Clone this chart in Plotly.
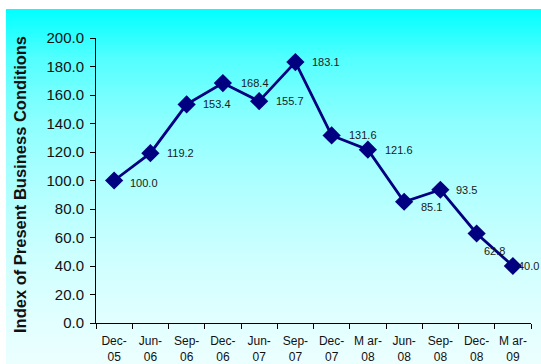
import plotly.graph_objects as go

# Quarterly index of present business conditions
periods = ["Dec-05", "Jun-06", "Sep-06", "Dec-06", "Jun-07", "Sep-07",
           "Dec-07", "Mar-08", "Jun-08", "Sep-08", "Dec-08", "Mar-09"]
index_values = [100.0, 119.2, 153.4, 168.4, 155.7, 183.1,
                131.6, 121.6, 85.1, 93.5, 62.8, 40.0]
tick_labels = ["Dec-<br>05", "Jun-<br>06", "Sep-<br>06", "Dec-<br>06", "Jun-<br>07",
               "Sep-<br>07", "Dec-<br>07", "M ar-<br>08", "Jun-<br>08", "Sep-<br>08",
               "Dec-<br>08", "M ar-<br>09"]
y_title = "Index of Present Business Conditions"

# label offsets (px) relative to each marker
label_dx = [14, 15, 14, 16, 15, 15, 15, 15, 15, 14, 5, 3]
label_dy = [-2, 0, 0, 0, 0, 0, 0, 0, -5, 0, -17, 0]

W, H = 541, 364
L, R, T, B = 96, 10, 38, 41
pw, ph = W - L - R, H - T - B

def px_to_paper_x(px):
    return (px - L) / pw

def px_to_paper_y(py):
    return (H - B - py) / ph

# vertical cyan gradient behind the chart (red channel stops, top -> bottom)
grad_stops = [(9, 0), (60, 85), (120, 140), (180, 172), (250, 203), (320, 226), (364, 236)]

def red_at(py):
    for (y0, r0), (y1, r1) in zip(grad_stops, grad_stops[1:]):
        if y0 <= py <= y1:
            return r0 + (r1 - r0) * (py - y0) / (y1 - y0)
    return grad_stops[-1][1]

shapes = []
band = 4
y = 9
while y < H:
    r = int(round(red_at(y + band / 2)))
    shapes.append(dict(
        type="rect", xref="paper", yref="paper", layer="below",
        x0=px_to_paper_x(6), x1=px_to_paper_x(W + 2),
        y0=px_to_paper_y(min(y + band + 0.5, H + 2)), y1=px_to_paper_y(y),
        fillcolor=f"rgb({r},255,255)", line=dict(width=0),
    ))
    y += band

fig = go.Figure()
fig.add_trace(go.Scatter(
    x=periods, y=index_values, mode="lines+markers",
    line=dict(color="#000080", width=2.8),
    marker=dict(symbol="diamond", size=14, color="#000080"),
    hoverinfo="skip", showlegend=False,
))

annotations = []
for p, v, dx, dy in zip(periods, index_values, label_dx, label_dy):
    annotations.append(dict(
        x=p, y=v, xref="x", yref="y", text=f"{v:.1f}", showarrow=False,
        xanchor="left", yanchor="middle", xshift=dx, yshift=dy,
        font=dict(family="Liberation Sans, Arial", size=11, color="#1a1a1a"),
    ))

# vertical axis title
annotations.append(dict(
    x=px_to_paper_x(20), y=px_to_paper_y(185), xref="paper", yref="paper",
    text=f"<b>{y_title}</b>", textangle=-90, showarrow=False,
    xanchor="center", yanchor="middle",
    font=dict(family="Liberation Sans, Arial", size=16.5, color="#111"),
))

fig.update_layout(
    width=W, height=H,
    margin=dict(l=L, r=R, t=T, b=B, pad=0),
    paper_bgcolor="white", plot_bgcolor="rgba(0,0,0,0)",
    shapes=shapes, annotations=annotations,
    font=dict(family="Liberation Sans, Arial", color="#111"),
    xaxis=dict(
        type="category", tickmode="array", tickvals=periods, ticktext=tick_labels,
        tickson="boundaries", ticks="outside", ticklen=5, tickcolor="black",
        ticklabelstandoff=7, tickangle=0, automargin=False,
        showline=True, linecolor="black", linewidth=1, showgrid=False,
        tickfont=dict(size=12, color="#111"), range=[-0.5, 11.5],
    ),
    yaxis=dict(
        range=[0, 200], dtick=20, tickformat=".1f", ticks="outside", ticklen=5,
        ticklabelstandoff=3, automargin=False,
        tickcolor="black", showline=True, linecolor="black", linewidth=1,
        showgrid=False, zeroline=False, tickfont=dict(size=15, color="#111"),
    ),
)

fig.write_html("out.html")
